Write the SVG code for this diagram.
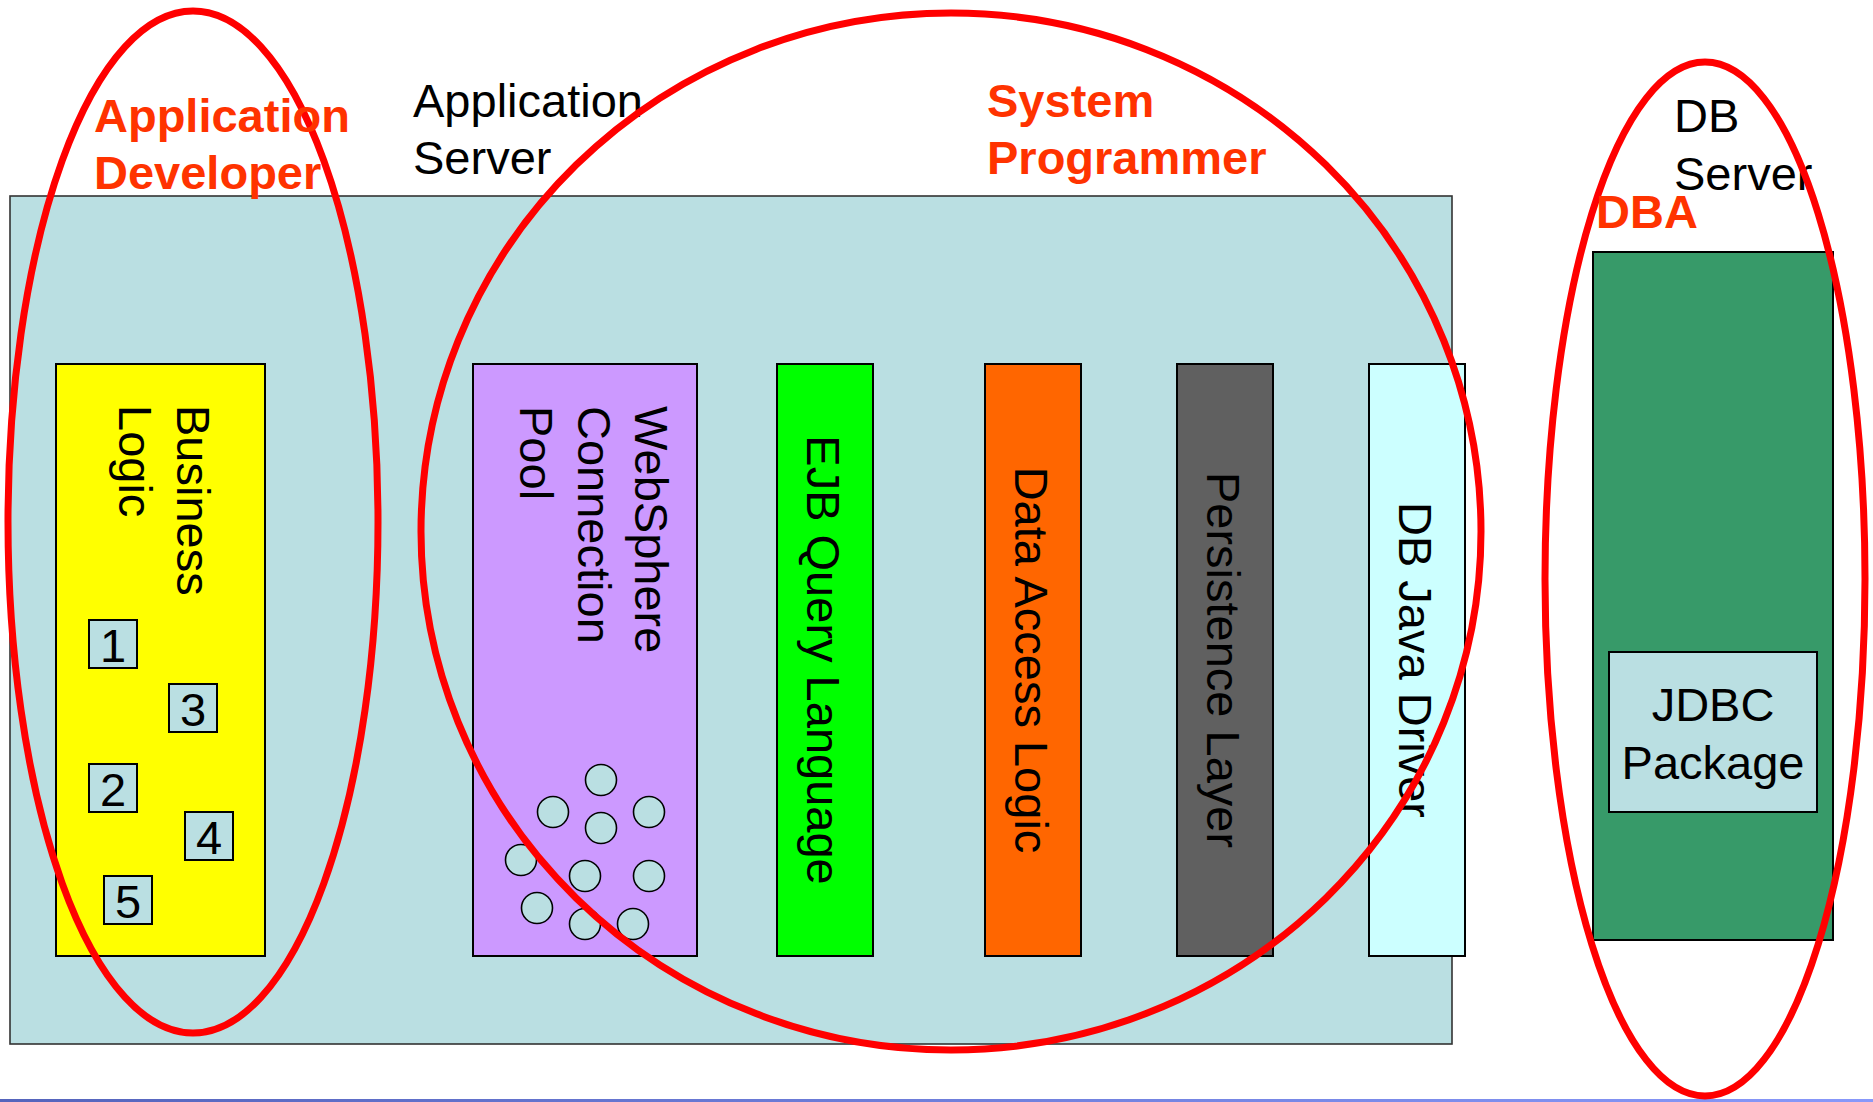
<svg xmlns="http://www.w3.org/2000/svg" width="1873" height="1102" viewBox="0 0 1873 1102">
<defs>
<linearGradient id="bar" x1="0" y1="0" x2="1" y2="0">
<stop offset="0" stop-color="#5564BC"/>
<stop offset="1" stop-color="#8898FA"/>
</linearGradient>
<style>
text{font-family:"Liberation Sans",Arial,sans-serif;font-size:47px;fill:#000}
.role{font-weight:bold;fill:#FF3300}
.box{stroke:#000;stroke-width:2}
.num{fill:#BADFE2;stroke:#000;stroke-width:2}
.num-t{text-anchor:middle}
.pool{fill:#BADFE2;stroke:#000;stroke-width:1.6}
.ring{fill:none;stroke:#FF0000;stroke-width:7}
.mid{text-anchor:middle}
</style>
</defs>
<rect width="1873" height="1102" fill="#FFFFFF"/>
<rect x="0" y="1099" width="1873" height="3" fill="url(#bar)"/>

<g id="app-server">
<rect x="10" y="196" width="1442" height="848" fill="#BADFE2" stroke="#333" stroke-width="1.6"/>
<text x="413" y="117">Application</text>
<text x="413" y="174">Server</text>
</g>

<g id="business-logic">
<rect class="box" x="56" y="364" width="209" height="592" fill="#FFFF00"/>
<text transform="translate(177,405) rotate(90)">Business</text>
<text transform="translate(119,405) rotate(90)">Logic</text>
<rect class="num" x="89" y="620" width="48" height="48"/><text class="num-t" x="113" y="662">1</text>
<rect class="num" x="169" y="684" width="48" height="48"/><text class="num-t" x="193" y="726">3</text>
<rect class="num" x="89" y="764" width="48" height="48"/><text class="num-t" x="113" y="806">2</text>
<rect class="num" x="185" y="812" width="48" height="48"/><text class="num-t" x="209" y="854">4</text>
<rect class="num" x="104" y="876" width="48" height="48"/><text class="num-t" x="128" y="918">5</text>
</g>

<g id="connection-pool">
<rect class="box" x="473" y="364" width="224" height="592" fill="#CC99FF"/>
<text transform="translate(635,406) rotate(90)">WebSphere</text>
<text transform="translate(578,406) rotate(90)">Connection</text>
<text transform="translate(520,406) rotate(90)">Pool</text>
<circle class="pool" cx="601" cy="780" r="15.5"/>
<circle class="pool" cx="553" cy="812" r="15.5"/>
<circle class="pool" cx="649" cy="812" r="15.5"/>
<circle class="pool" cx="601" cy="828" r="15.5"/>
<circle class="pool" cx="521" cy="860" r="15.5"/>
<circle class="pool" cx="585" cy="876" r="15.5"/>
<circle class="pool" cx="649" cy="876" r="15.5"/>
<circle class="pool" cx="537" cy="908" r="15.5"/>
<circle class="pool" cx="585" cy="924" r="15.5"/>
<circle class="pool" cx="633" cy="924" r="15.5"/>
</g>

<g id="ejb-ql">
<rect class="box" x="777" y="364" width="96" height="592" fill="#00FF00"/>
<text class="mid" transform="translate(806.5,660) rotate(90)">EJB Query Language</text>
</g>

<g id="data-access">
<rect class="box" x="985" y="364" width="96" height="592" fill="#FF6600"/>
<text class="mid" transform="translate(1014.5,660) rotate(90)">Data Access Logic</text>
</g>

<g id="persistence">
<rect class="box" x="1177" y="364" width="96" height="592" fill="#606060"/>
<text class="mid" transform="translate(1206.5,660) rotate(90)">Persistence Layer</text>
</g>

<g id="db-driver">
<rect class="box" x="1369" y="364" width="96" height="592" fill="#CCFFFF"/>
<text class="mid" transform="translate(1398.5,660) rotate(90)">DB Java Driver</text>
</g>

<g id="db-server">
<text x="1674" y="132">DB</text>
<text x="1674" y="190">Server</text>
<rect class="box" x="1593" y="252" width="240" height="688" fill="#379A69"/>
<rect class="box" x="1609" y="652" width="208" height="160" fill="#BADFE2"/>
<text class="mid" x="1713" y="721">JDBC</text>
<text class="mid" x="1713" y="779">Package</text>
</g>

<g id="connectors"></g>

<g id="roles">
<ellipse class="ring" cx="193" cy="522" rx="185" ry="511"/>
<ellipse class="ring" cx="951" cy="531.5" rx="530" ry="518.5"/>
<ellipse class="ring" cx="1705" cy="579" rx="160" ry="517"/>
<text class="role" x="94" y="132">Application</text>
<text class="role" x="94" y="189">Developer</text>
<text class="role" x="987" y="117">System</text>
<text class="role" x="987" y="174">Programmer</text>
<text class="role" x="1596" y="228">DBA</text>
</g>
</svg>
